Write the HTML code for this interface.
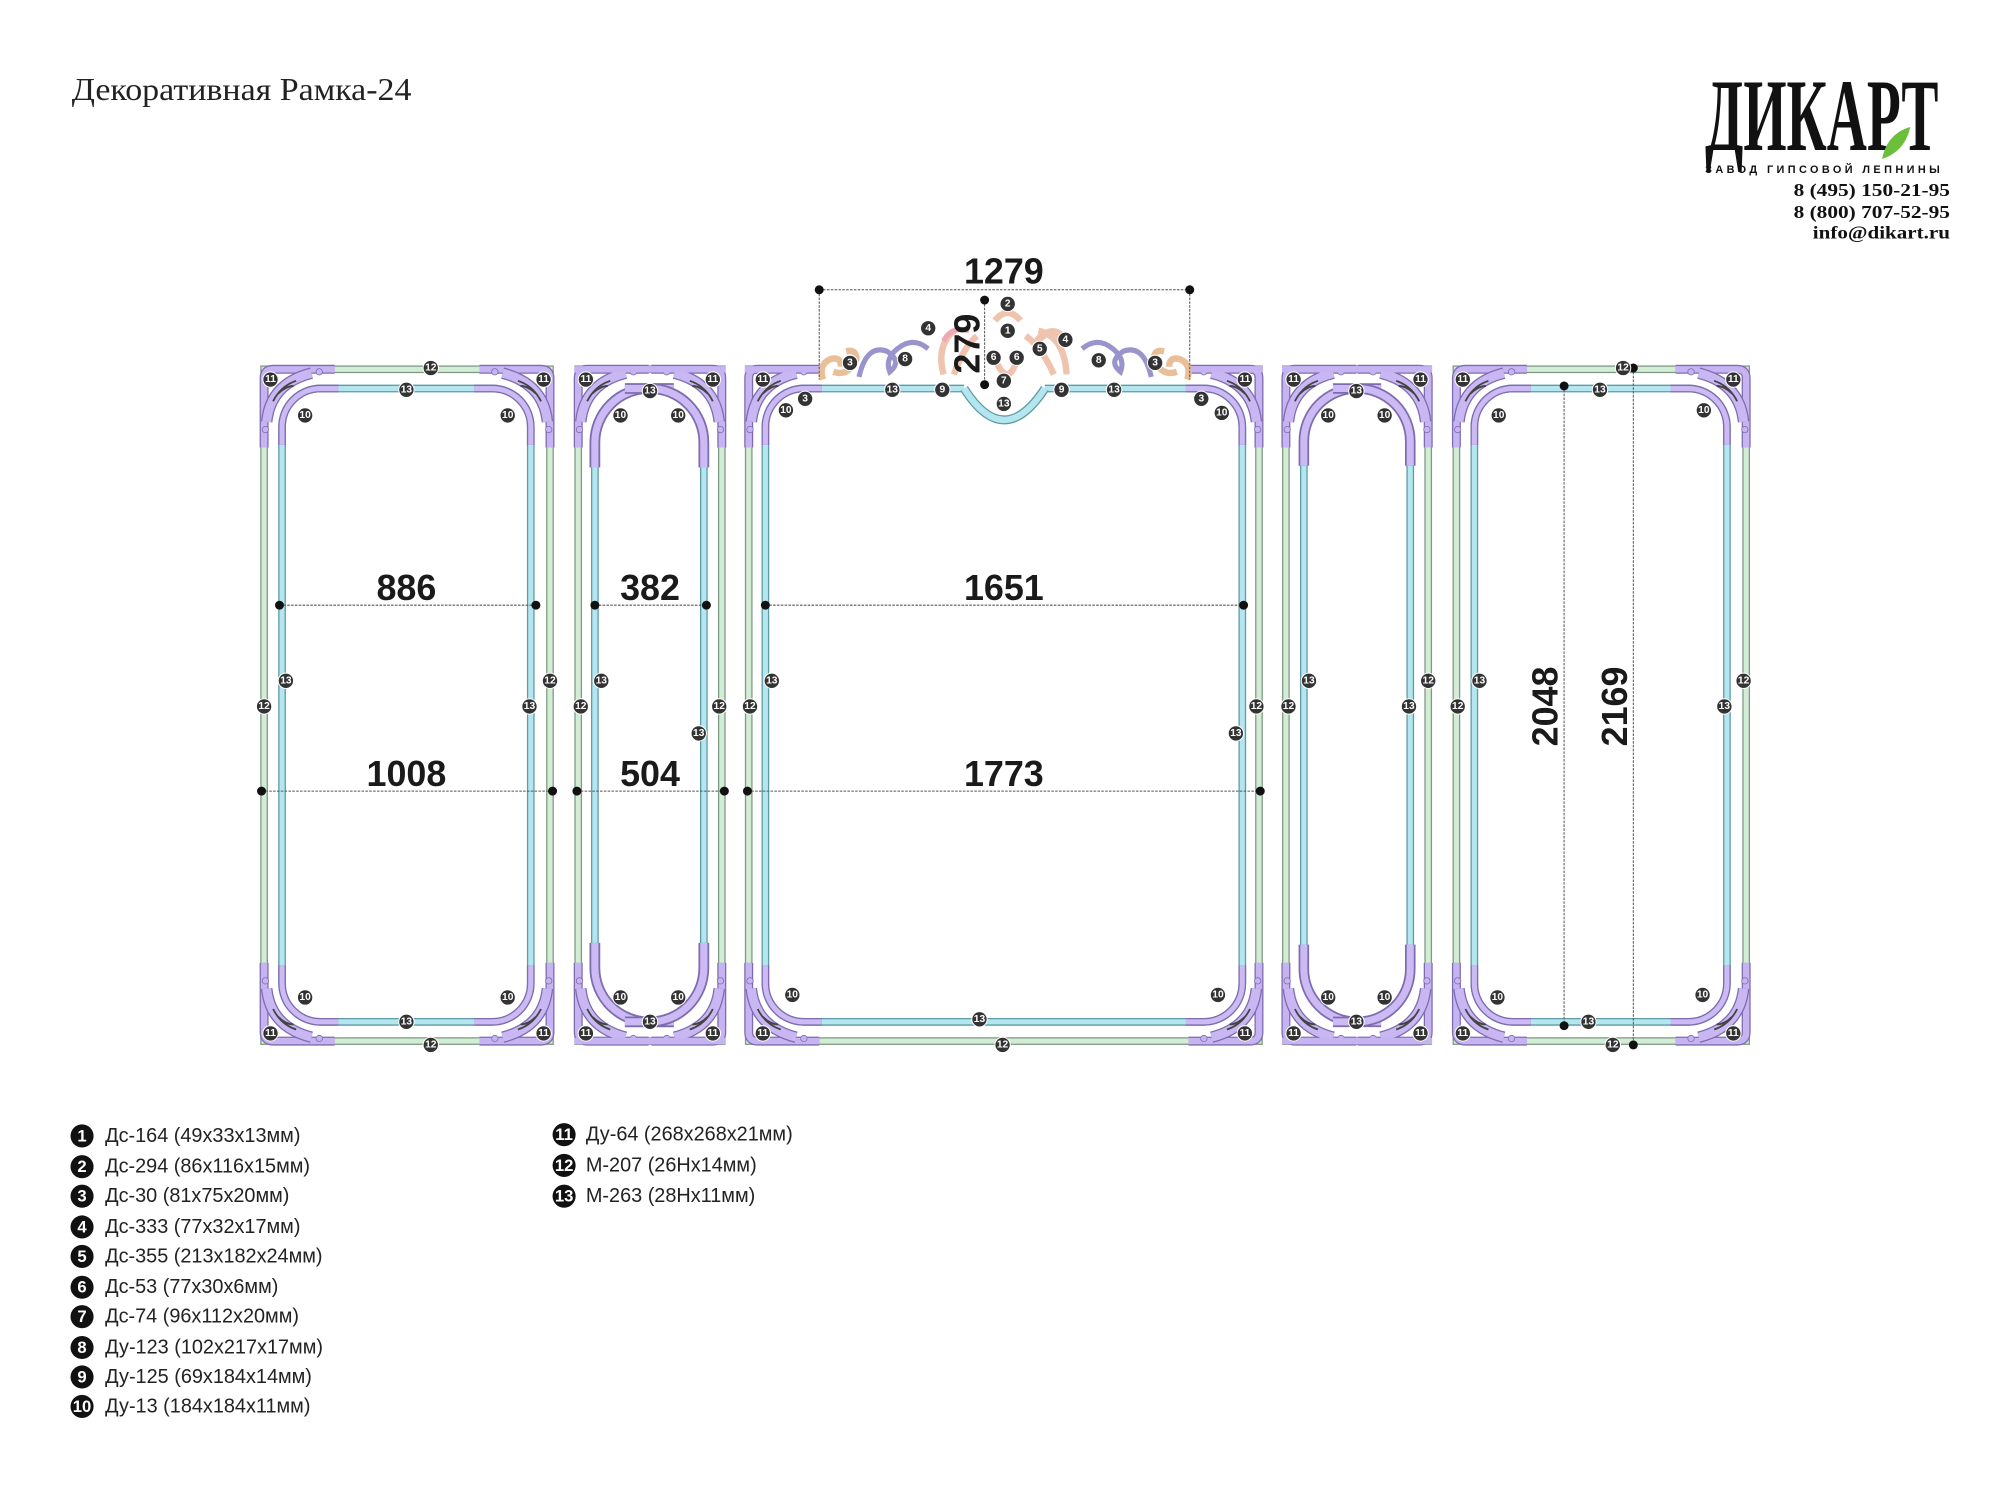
<!DOCTYPE html>
<html><head><meta charset="utf-8"><style>
html,body{margin:0;padding:0;background:#fff;}
svg{display:block;}
.b circle{fill:#333;stroke:#fff;stroke-width:0.8}
.b text{fill:#fff;font-family:"Liberation Sans",sans-serif;font-weight:bold;font-size:8px;text-anchor:middle;dominant-baseline:central}
.dim{font-family:"Liberation Sans",sans-serif;font-weight:bold;font-size:28px;fill:#1a1a1a;text-anchor:middle}
.dl{stroke:#555;stroke-width:0.8;stroke-dasharray:2 1;fill:none}
.leg{font-family:"Liberation Sans",sans-serif;font-size:15.5px;fill:#222}
.lb circle{fill:#111}
.lb text{fill:#fff;font-family:"Liberation Sans",sans-serif;font-weight:bold;font-size:13px;text-anchor:middle;dominant-baseline:central}
</style></head><body>
<svg width="2000" height="1486" viewBox="0 0 1560 1159" xmlns="http://www.w3.org/2000/svg">
<defs>
<g id="oc">
 <path d="M3,64 L3,10 Q3,3 10,3 L58,3" fill="none" stroke="#7e6cae" stroke-width="7"/>
 <path d="M3,64 L3,10 Q3,3 10,3 L58,3" fill="none" stroke="#c6b3f2" stroke-width="5"/>
 <path d="M5,44 Q8,14 40,6" fill="none" stroke="#7e6cae" stroke-width="9"/>
 <path d="M5,44 Q8,14 40,6" fill="none" stroke="#c9b7f3" stroke-width="7"/>
 <path d="M10,28 Q16,16 28,12 M14,22 Q20,16 26,16" stroke="#444" stroke-width="1.4" fill="none"/>
 <circle cx="46" cy="5" r="2.5" fill="#c6b3f2" stroke="#7e6cae" stroke-width="0.6"/>
 <circle cx="4" cy="50" r="2.5" fill="#c6b3f2" stroke="#7e6cae" stroke-width="0.6"/>
</g>
<g id="ic">
 <path d="M0,44 L0,30 A30,30 0 0 1 30,0 L44,0" fill="none" stroke="#7e6cae" stroke-width="6"/>
 <path d="M0,44 L0,30 A30,30 0 0 1 30,0 L44,0" fill="none" stroke="#cbbaf4" stroke-width="4"/>
</g>
</defs>

<text x="56" y="78" font-family="Liberation Serif,serif" font-size="25" textLength="265" lengthAdjust="spacingAndGlyphs" fill="#222">Декоративная Рамка-24</text>

<!-- logo -->
<text x="1330" y="117" font-family="Liberation Serif,serif" font-weight="bold" font-size="80" textLength="182" lengthAdjust="spacingAndGlyphs" fill="#111">ДИКАРТ</text>
<path d="M1468,124 Q1472,104 1490,99 Q1486,118 1468,124Z" fill="#6cbf3a"/>
<text x="1330" y="135" font-family="Liberation Sans,sans-serif" font-weight="bold" font-size="8.5" textLength="183" lengthAdjust="spacing" fill="#111">ЗАВОД ГИПСОВОЙ ЛЕПНИНЫ</text>
<g font-family="Liberation Serif,serif" font-weight="bold" font-size="14" fill="#111">
<text x="1399" y="153" textLength="122" lengthAdjust="spacingAndGlyphs">8 (495) 150-21-95</text>
<text x="1399" y="170" textLength="122" lengthAdjust="spacingAndGlyphs">8 (800) 707-52-95</text>
<text x="1414" y="186" textLength="107" lengthAdjust="spacingAndGlyphs">info@dikart.ru</text>
</g>

<g fill="none">
 <g stroke="#7f9a84" stroke-width="6">
  <rect x="206" y="288" width="223" height="524"/><rect x="451" y="288" width="112" height="524"/>
  <rect x="584" y="288" width="398" height="524"/><rect x="1003" y="288" width="111" height="524"/>
  <rect x="1136" y="288" width="226" height="524"/>
 </g>
 <g stroke="#d3ecd5" stroke-width="4">
  <rect x="206" y="288" width="223" height="524"/><rect x="451" y="288" width="112" height="524"/>
  <rect x="584" y="288" width="398" height="524"/><rect x="1003" y="288" width="111" height="524"/>
  <rect x="1136" y="288" width="226" height="524"/>
 </g>
 <rect x="632" y="278" width="302" height="16" fill="#fff" stroke="none"/>
 <g stroke="#5f9aa6" stroke-width="6">
  <rect x="220" y="303" width="194" height="494" rx="30"/><rect x="464" y="303" width="85" height="494" rx="42"/>
  <rect x="597" y="303" width="372" height="494" rx="30"/><rect x="1017" y="303" width="83" height="494" rx="41"/>
  <rect x="1150" y="303" width="197" height="494" rx="30"/>
 </g>
 <g stroke="#b3e6ee" stroke-width="4">
  <rect x="220" y="303" width="194" height="494" rx="30"/><rect x="464" y="303" width="85" height="494" rx="42"/>
  <rect x="597" y="303" width="372" height="494" rx="30"/><rect x="1017" y="303" width="83" height="494" rx="41"/>
  <rect x="1150" y="303" width="197" height="494" rx="30"/>
 </g>
 <rect x="752" y="299" width="63" height="8" fill="#fff" stroke="none"/>
 <path d="M752,303 Q783,352 815,303" stroke="#5f9aa6" stroke-width="7"/>
 <path d="M752,303 Q783,352 815,303" stroke="#b3e6ee" stroke-width="5"/>
</g>

<use href="#ic" transform="translate(220,303)"/><use href="#ic" transform="translate(414,303) scale(-1,1)"/>
<use href="#ic" transform="translate(220,797) scale(1,-1)"/><use href="#ic" transform="translate(414,797) scale(-1,-1)"/>
<use href="#ic" transform="translate(464,303) scale(1.4)"/><use href="#ic" transform="translate(549,303) scale(-1.4,1.4)"/>
<use href="#ic" transform="translate(464,797) scale(1.4,-1.4)"/><use href="#ic" transform="translate(549,797) scale(-1.4,-1.4)"/>
<use href="#ic" transform="translate(597,303)"/><use href="#ic" transform="translate(969,303) scale(-1,1)"/>
<use href="#ic" transform="translate(597,797) scale(1,-1)"/><use href="#ic" transform="translate(969,797) scale(-1,-1)"/>
<use href="#ic" transform="translate(1017,303) scale(1.37)"/><use href="#ic" transform="translate(1100,303) scale(-1.37,1.37)"/>
<use href="#ic" transform="translate(1017,797) scale(1.37,-1.37)"/><use href="#ic" transform="translate(1100,797) scale(-1.37,-1.37)"/>
<use href="#ic" transform="translate(1150,303)"/><use href="#ic" transform="translate(1347,303) scale(-1,1)"/>
<use href="#ic" transform="translate(1150,797) scale(1,-1)"/><use href="#ic" transform="translate(1347,797) scale(-1,-1)"/>

<g>
<use href="#oc" transform="translate(203,285)"/><use href="#oc" transform="translate(432,285) scale(-1,1)"/>
<use href="#oc" transform="translate(203,815) scale(1,-1)"/><use href="#oc" transform="translate(432,815) scale(-1,-1)"/>
<use href="#oc" transform="translate(448,285)"/><use href="#oc" transform="translate(566,285) scale(-1,1)"/>
<use href="#oc" transform="translate(448,815) scale(1,-1)"/><use href="#oc" transform="translate(566,815) scale(-1,-1)"/>
<use href="#oc" transform="translate(581,285)"/><use href="#oc" transform="translate(985,285) scale(-1,1)"/>
<use href="#oc" transform="translate(581,815) scale(1,-1)"/><use href="#oc" transform="translate(985,815) scale(-1,-1)"/>
<use href="#oc" transform="translate(1000,285)"/><use href="#oc" transform="translate(1117,285) scale(-1,1)"/>
<use href="#oc" transform="translate(1000,815) scale(1,-1)"/><use href="#oc" transform="translate(1117,815) scale(-1,-1)"/>
<use href="#oc" transform="translate(1133,285)"/><use href="#oc" transform="translate(1365,285) scale(-1,1)"/>
<use href="#oc" transform="translate(1133,815) scale(1,-1)"/><use href="#oc" transform="translate(1365,815) scale(-1,-1)"/>
</g>
<path d="M448,288 L566,288 M448,812 L566,812 M1000,288 L1117,288 M1000,812 L1117,812" stroke="#c6b3f2" stroke-width="5"/>
<path d="M581,288 L640,288 M928,288 L985,288" stroke="#c6b3f2" stroke-width="5"/>

<g stroke-width="1">
 <path d="M642,296 Q638,284 648,280 Q656,278 656,286 M650,290 Q662,294 668,280 Q668,272 660,274" fill="none" stroke="#e9bf98" stroke-width="5"/>
 <path d="M926,296 Q930,284 920,280 Q912,278 912,286 M918,290 Q906,294 900,280 Q900,272 908,274" fill="none" stroke="#e9bf98" stroke-width="5"/>
 <path d="M670,294 Q676,268 692,274 Q704,282 694,290 Q690,280 700,272 Q712,262 724,272" fill="none" stroke="#9a94cc" stroke-width="4"/>
 <path d="M898,294 Q892,268 876,274 Q864,282 874,290 Q878,280 868,272 Q856,262 844,272" fill="none" stroke="#9a94cc" stroke-width="4"/>
 <path d="M736,292 Q730,270 744,258 M744,292 Q752,270 762,262 M800,262 Q812,270 822,292 M810,258 Q830,262 832,292 M776,250 Q786,238 796,250 M778,284 Q786,300 792,284" fill="none" stroke="#efc3ae" stroke-width="5"/>
 <path d="M736,266 Q742,254 756,258" fill="none" stroke="#f0a8b8" stroke-width="4"/>
 <path d="M806,270 Q820,250 832,266" fill="none" stroke="#efc3ae" stroke-width="6"/>
</g>

<g class="dl">
 <path d="M218,472 H418 M204,617 H431 M464,472 H551 M450,617 H565 M597,472 H970 M583,617 H983"/>
 <path d="M639,226 H928 M639,226 V296 M928,226 V296 M768,234 V300"/>
 <path d="M1220,301 V800 M1274,287 V815"/>
</g>
<g fill="#111">
 <circle cx="218" cy="472" r="3.5"/><circle cx="418" cy="472" r="3.5"/><circle cx="204" cy="617" r="3.5"/><circle cx="431" cy="617" r="3.5"/>
 <circle cx="464" cy="472" r="3.5"/><circle cx="551" cy="472" r="3.5"/><circle cx="450" cy="617" r="3.5"/><circle cx="565" cy="617" r="3.5"/>
 <circle cx="597" cy="472" r="3.5"/><circle cx="970" cy="472" r="3.5"/><circle cx="583" cy="617" r="3.5"/><circle cx="983" cy="617" r="3.5"/>
 <circle cx="639" cy="226" r="3.5"/><circle cx="928" cy="226" r="3.5"/><circle cx="768" cy="234" r="3.5"/><circle cx="768" cy="300" r="3.5"/>
 <circle cx="1220" cy="301" r="3.5"/><circle cx="1220" cy="800" r="3.5"/><circle cx="1274" cy="287" r="3.5"/><circle cx="1274" cy="815" r="3.5"/>
</g>
<text class="dim" x="317" y="468">886</text><text class="dim" x="317" y="613">1008</text>
<text class="dim" x="507" y="468">382</text><text class="dim" x="507" y="613">504</text>
<text class="dim" x="783" y="468">1651</text><text class="dim" x="783" y="613">1773</text>
<text class="dim" x="783" y="221">1279</text>
<text class="dim" transform="translate(764,268) rotate(-90)" x="0" y="0">279</text>
<text class="dim" transform="translate(1215,551) rotate(-90)" x="0" y="0">2048</text>
<text class="dim" transform="translate(1269,551) rotate(-90)" x="0" y="0">2169</text>

<g class="b">
<g transform="translate(211,296)"><circle r="6"/><text>11</text></g><g transform="translate(424,296)"><circle r="6"/><text>11</text></g>
<g transform="translate(211,806)"><circle r="6"/><text>11</text></g><g transform="translate(424,806)"><circle r="6"/><text>11</text></g>
<g transform="translate(336,287)"><circle r="6"/><text>12</text></g><g transform="translate(206,551)"><circle r="6"/><text>12</text></g>
<g transform="translate(429,531)"><circle r="6"/><text>12</text></g><g transform="translate(336,815)"><circle r="6"/><text>12</text></g>
<g transform="translate(317,304)"><circle r="6"/><text>13</text></g><g transform="translate(223,531)"><circle r="6"/><text>13</text></g>
<g transform="translate(413,551)"><circle r="6"/><text>13</text></g><g transform="translate(317,797)"><circle r="6"/><text>13</text></g>
<g transform="translate(238,324)"><circle r="6"/><text>10</text></g><g transform="translate(396,324)"><circle r="6"/><text>10</text></g>
<g transform="translate(238,778)"><circle r="6"/><text>10</text></g><g transform="translate(396,778)"><circle r="6"/><text>10</text></g>

<g transform="translate(457,296)"><circle r="6"/><text>11</text></g><g transform="translate(556,296)"><circle r="6"/><text>11</text></g>
<g transform="translate(457,806)"><circle r="6"/><text>11</text></g><g transform="translate(556,806)"><circle r="6"/><text>11</text></g>
<g transform="translate(507,305)"><circle r="6"/><text>13</text></g><g transform="translate(469,531)"><circle r="6"/><text>13</text></g>
<g transform="translate(545,572)"><circle r="6"/><text>13</text></g><g transform="translate(507,797)"><circle r="6"/><text>13</text></g>
<g transform="translate(453,551)"><circle r="6"/><text>12</text></g><g transform="translate(561,551)"><circle r="6"/><text>12</text></g>
<g transform="translate(484,324)"><circle r="6"/><text>10</text></g><g transform="translate(529,324)"><circle r="6"/><text>10</text></g>
<g transform="translate(484,778)"><circle r="6"/><text>10</text></g><g transform="translate(529,778)"><circle r="6"/><text>10</text></g>

<g transform="translate(595,296)"><circle r="6"/><text>11</text></g><g transform="translate(971,296)"><circle r="6"/><text>11</text></g>
<g transform="translate(595,806)"><circle r="6"/><text>11</text></g><g transform="translate(971,806)"><circle r="6"/><text>11</text></g>
<g transform="translate(613,320)"><circle r="6"/><text>10</text></g><g transform="translate(953,322)"><circle r="6"/><text>10</text></g>
<g transform="translate(618,776)"><circle r="6"/><text>10</text></g><g transform="translate(950,776)"><circle r="6"/><text>10</text></g>
<g transform="translate(628,311)"><circle r="6"/><text>3</text></g><g transform="translate(937,311)"><circle r="6"/><text>3</text></g>
<g transform="translate(663,283)"><circle r="6"/><text>3</text></g><g transform="translate(901,283)"><circle r="6"/><text>3</text></g>
<g transform="translate(696,304)"><circle r="6"/><text>13</text></g><g transform="translate(869,304)"><circle r="6"/><text>13</text></g>
<g transform="translate(783,315)"><circle r="6"/><text>13</text></g><g transform="translate(602,531)"><circle r="6"/><text>13</text></g>
<g transform="translate(964,572)"><circle r="6"/><text>13</text></g><g transform="translate(764,795)"><circle r="6"/><text>13</text></g>
<g transform="translate(735,304)"><circle r="6"/><text>9</text></g><g transform="translate(828,304)"><circle r="6"/><text>9</text></g>
<g transform="translate(585,551)"><circle r="6"/><text>12</text></g><g transform="translate(980,551)"><circle r="6"/><text>12</text></g>
<g transform="translate(782,815)"><circle r="6"/><text>12</text></g>
<g transform="translate(706,280)"><circle r="6"/><text>8</text></g><g transform="translate(857,281)"><circle r="6"/><text>8</text></g>
<g transform="translate(724,256)"><circle r="6"/><text>4</text></g><g transform="translate(831,265)"><circle r="6"/><text>4</text></g>
<g transform="translate(786,237)"><circle r="6"/><text>2</text></g><g transform="translate(786,258)"><circle r="6"/><text>1</text></g>
<g transform="translate(775,279)"><circle r="6"/><text>6</text></g><g transform="translate(793,279)"><circle r="6"/><text>6</text></g>
<g transform="translate(811,272)"><circle r="6"/><text>5</text></g><g transform="translate(783,297)"><circle r="6"/><text>7</text></g>

<g transform="translate(1009,296)"><circle r="6"/><text>11</text></g><g transform="translate(1108,296)"><circle r="6"/><text>11</text></g>
<g transform="translate(1009,806)"><circle r="6"/><text>11</text></g><g transform="translate(1108,806)"><circle r="6"/><text>11</text></g>
<g transform="translate(1058,305)"><circle r="6"/><text>13</text></g><g transform="translate(1021,531)"><circle r="6"/><text>13</text></g>
<g transform="translate(1099,551)"><circle r="6"/><text>13</text></g><g transform="translate(1058,797)"><circle r="6"/><text>13</text></g>
<g transform="translate(1005,551)"><circle r="6"/><text>12</text></g><g transform="translate(1114,531)"><circle r="6"/><text>12</text></g>
<g transform="translate(1036,324)"><circle r="6"/><text>10</text></g><g transform="translate(1080,324)"><circle r="6"/><text>10</text></g>
<g transform="translate(1036,778)"><circle r="6"/><text>10</text></g><g transform="translate(1080,778)"><circle r="6"/><text>10</text></g>

<g transform="translate(1141,296)"><circle r="6"/><text>11</text></g><g transform="translate(1352,296)"><circle r="6"/><text>11</text></g>
<g transform="translate(1141,806)"><circle r="6"/><text>11</text></g><g transform="translate(1352,806)"><circle r="6"/><text>11</text></g>
<g transform="translate(1266,287)"><circle r="6"/><text>12</text></g><g transform="translate(1137,551)"><circle r="6"/><text>12</text></g>
<g transform="translate(1360,531)"><circle r="6"/><text>12</text></g><g transform="translate(1258,815)"><circle r="6"/><text>12</text></g>
<g transform="translate(1248,304)"><circle r="6"/><text>13</text></g><g transform="translate(1154,531)"><circle r="6"/><text>13</text></g>
<g transform="translate(1345,551)"><circle r="6"/><text>13</text></g><g transform="translate(1239,797)"><circle r="6"/><text>13</text></g>
<g transform="translate(1169,324)"><circle r="6"/><text>10</text></g><g transform="translate(1329,320)"><circle r="6"/><text>10</text></g>
<g transform="translate(1168,778)"><circle r="6"/><text>10</text></g><g transform="translate(1328,776)"><circle r="6"/><text>10</text></g>
</g>

<g class="lb">
<g transform="translate(64,886)"><circle r="9"/><text>1</text></g>
<g transform="translate(64,910)"><circle r="9"/><text>2</text></g>
<g transform="translate(64,933)"><circle r="9"/><text>3</text></g>
<g transform="translate(64,957)"><circle r="9"/><text>4</text></g>
<g transform="translate(64,980)"><circle r="9"/><text>5</text></g>
<g transform="translate(64,1004)"><circle r="9"/><text>6</text></g>
<g transform="translate(64,1027)"><circle r="9"/><text>7</text></g>
<g transform="translate(64,1051)"><circle r="9"/><text>8</text></g>
<g transform="translate(64,1074)"><circle r="9"/><text>9</text></g>
<g transform="translate(64,1097)"><circle r="9"/><text font-size="11">10</text></g>
<g transform="translate(440,885)"><circle r="9"/><text font-size="11">11</text></g>
<g transform="translate(440,909)"><circle r="9"/><text font-size="11">12</text></g>
<g transform="translate(440,933)"><circle r="9"/><text font-size="11">13</text></g>
</g>
<g class="leg" dominant-baseline="central">
<text x="82" y="886">Дс-164 (49x33x13мм)</text>
<text x="82" y="910">Дс-294 (86x116x15мм)</text>
<text x="82" y="933">Дс-30 (81x75x20мм)</text>
<text x="82" y="957">Дс-333 (77x32x17мм)</text>
<text x="82" y="980">Дс-355 (213x182x24мм)</text>
<text x="82" y="1004">Дс-53 (77x30x6мм)</text>
<text x="82" y="1027">Дс-74 (96x112x20мм)</text>
<text x="82" y="1051">Ду-123 (102x217x17мм)</text>
<text x="82" y="1074">Ду-125 (69x184x14мм)</text>
<text x="82" y="1097">Ду-13 (184x184x11мм)</text>
<text x="457" y="885">Ду-64 (268x268x21мм)</text>
<text x="457" y="909">М-207 (26Нx14мм)</text>
<text x="457" y="933">М-263 (28Нx11мм)</text>
</g>
</svg>
</body></html>
